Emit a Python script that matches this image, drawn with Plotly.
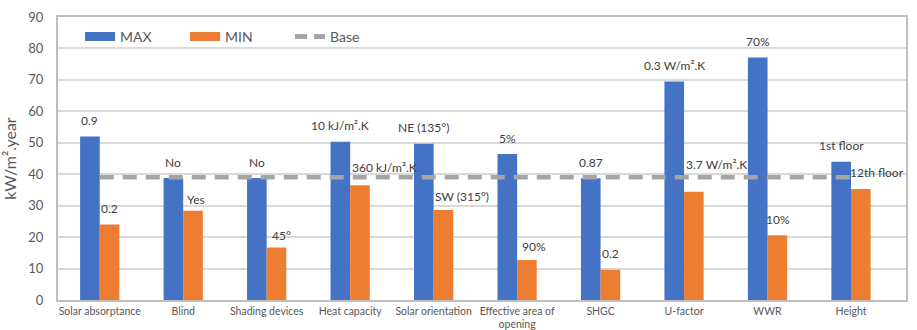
import plotly.graph_objects as go

categories = ["Solar absorptance", "Blind", "Shading devices", "Heat capacity",
              "Solar orientation", "Effective area of<br>opening", "SHGC",
              "U-factor", "WWR", "Height"]
max_values = [52.0, 38.8, 38.8, 50.3, 49.7, 46.4, 38.7, 69.5, 77.1, 44.0]
min_values = [24.0, 28.4, 16.7, 36.5, 28.6, 12.7, 9.6, 34.4, 20.6, 35.3]
base_values = [39.0] * len(categories)
max_labels = ["0.9", "No", "No", "10 kJ/m².K", "NE (135°)", "5%", "0.87",
              "0.3 W/m².K", "70%", "1st floor"]
min_labels = ["0.2", "Yes", "45°", "360 kJ/m².K", "SW (315°)", "90%", "0.2",
              "3.7 W/m².K", "10%", "12th floor"]

# label offsets (pixels) relative to the default position above each MIN bar
min_label_dx = [0, 3, 5, 24, 18, 7, 0, 22, 0, 16]
min_label_dy = [0, -5, -4, 2, -2, -2, 0, 11, 0, 1]

BLUE = "#4472C4"
ORANGE = "#ED7D31"
GRAY = "#A5A5A5"
TXT = "#595959"
FONT = "Lato, 'Open Sans', sans-serif"

fig = go.Figure()
fig.add_trace(go.Bar(name="MAX", x=categories, y=max_values, marker_color=BLUE,
                     marker_line_width=0, showlegend=False))
fig.add_trace(go.Bar(name="MIN", x=categories, y=min_values, marker_color=ORANGE,
                     marker_line_width=0, showlegend=False))
fig.add_trace(go.Scatter(name="Base", x=categories, y=base_values, mode="lines",
                         line=dict(color=GRAY, width=4.5, dash="14px,9px"),
                         showlegend=False))
# legend entries (wide swatches as in the original)
fig.add_trace(go.Scatter(name="MAX", x=[None], y=[None], mode="lines",
                         line=dict(color=BLUE, width=9), legendrank=1))
fig.add_trace(go.Scatter(name="MIN", x=[None], y=[None], mode="lines",
                         line=dict(color=ORANGE, width=9), legendrank=2))
fig.add_trace(go.Scatter(name="Base", x=[None], y=[None], mode="lines",
                         line=dict(color=GRAY, width=5, dash="12px,7px"), legendrank=3))

annotations = []
for i, c in enumerate(categories):
    annotations.append(dict(x=c, y=max_values[i], text=max_labels[i], showarrow=False,
                            xshift=-10, yshift=16, yanchor="middle",
                            font=dict(size=12, color="#404040", family=FONT)))
    annotations.append(dict(x=c, y=min_values[i], text=min_labels[i], showarrow=False,
                            xshift=10 + min_label_dx[i], yshift=16 + min_label_dy[i],
                            yanchor="middle",
                            font=dict(size=12, color="#404040", family=FONT)))

fig.update_layout(
    width=917, height=330,
    margin=dict(l=58, r=11, t=17, b=30),
    paper_bgcolor="white", plot_bgcolor="white",
    font=dict(family=FONT, color=TXT),
    barmode="group", bargap=0.53, bargroupgap=0,
    showlegend=True,
    legend=dict(orientation="h", x=0.026, y=0.93, xanchor="left", yanchor="middle",
                font=dict(size=14, color=TXT), entrywidth=60,
                bgcolor="rgba(0,0,0,0)", traceorder="normal"),
    annotations=annotations,
)
fig.update_yaxes(range=[0, 90], dtick=10, showgrid=True, gridcolor="#D9D9D9",
                 gridwidth=1.5, zeroline=False, showline=True, linecolor="#BFBFBF",
                 linewidth=2, mirror=True, ticks="", ticklabelstandoff=10,
                 automargin=False,
                 tickfont=dict(size=13, color=TXT),
                 title=dict(text="kW/m².year", font=dict(size=16, color=TXT), standoff=8))
fig.update_xaxes(showline=True, linecolor="#BFBFBF", linewidth=2, mirror=True,
                 ticks="", tickfont=dict(size=10.5, color=TXT), tickangle=0,
                 automargin=False)

fig.write_html("out.html", config={"displayModeBar": False},
               post_script="document.body.style.margin='0';document.body.style.overflow='hidden';")
